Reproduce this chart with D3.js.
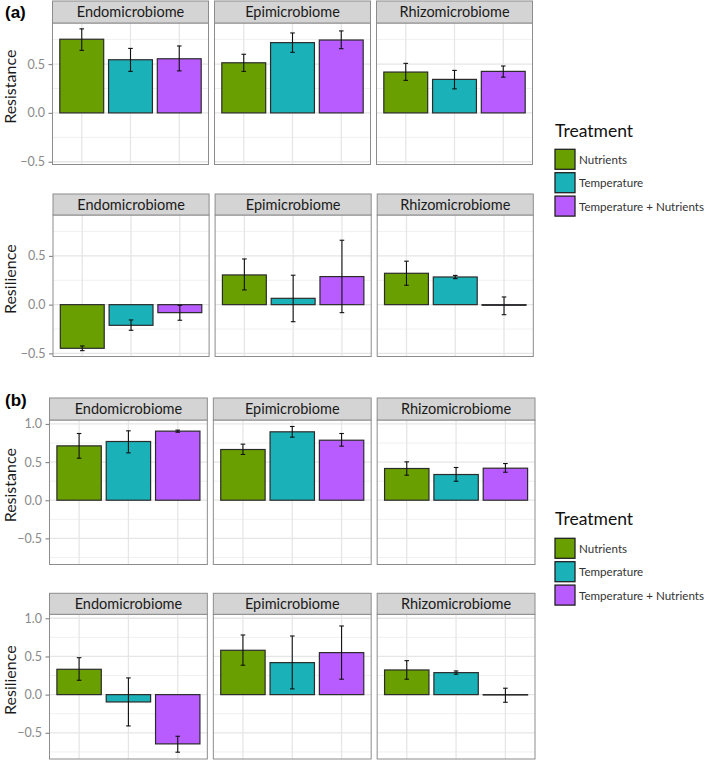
<!DOCTYPE html>
<html>
<head>
<meta charset="utf-8">
<script src="https://cdn.jsdelivr.net/npm/d3@7"></script>
<style>
  html, body { margin: 0; padding: 0; background: #fff; }
  svg { display: block; font-family: Lato, "Open Sans", sans-serif; }
</style>
</head>
<body>
<svg id="chart" width="709" height="762"></svg>
<script>
// ---------------- DATA ----------------
const treatments = ["Nutrients", "Temperature", "Temperature + Nutrients"];
const compartments = ["Endomicrobiome", "Epimicrobiome", "Rhizomicrobiome"];
const colors = ["#6a9f00", "#1ab2b8", "#b85cff"];

// (a) Resistance: per compartment, values per treatment
const aResistanceMean = [[0.754, 0.544, 0.554], [0.513, 0.719, 0.746], [0.418, 0.343, 0.425]];
const aResistanceLo   = [[0.640, 0.425, 0.430], [0.425, 0.620, 0.657], [0.333, 0.246, 0.366]];
const aResistanceHi   = [[0.860, 0.660, 0.685], [0.600, 0.818, 0.839], [0.507, 0.435, 0.480]];

// (a) Resilience
const aResilienceMean = [[-0.448, -0.212, -0.082], [0.305, 0.065, 0.288], [0.322, 0.284, -0.007]];
const aResilienceLo   = [[-0.472, -0.263, -0.160], [0.151, -0.175, -0.082], [0.199, 0.267, -0.103]];
const aResilienceHi   = [[-0.424, -0.157, -0.007], [0.469, 0.302, 0.661], [0.446, 0.300, 0.079]];

// (b) Resistance
const bResistanceMean = [[0.713, 0.770, 0.906], [0.665, 0.897, 0.787], [0.416, 0.337, 0.420]];
const bResistanceLo   = [[0.551, 0.621, 0.892], [0.600, 0.827, 0.709], [0.328, 0.249, 0.367]];
const bResistanceHi   = [[0.875, 0.910, 0.919], [0.735, 0.967, 0.875], [0.503, 0.429, 0.481]];

// (b) Resilience
const bResilienceMean = [[0.332, -0.096, -0.645], [0.581, 0.419, 0.550], [0.323, 0.288, -0.005]];
const bResilienceLo   = [[0.188, -0.410, -0.754], [0.385, 0.075, 0.202], [0.202, 0.267, -0.100]];
const bResilienceHi   = [[0.484, 0.219, -0.545], [0.781, 0.768, 0.899], [0.445, 0.310, 0.084]];

const aTicks = [-0.5, 0, 0.5];
const bTicks = [-0.5, 0, 0.5, 1.0];
const legendTitle = "Treatment";

// ---------------- LAYOUT ----------------
const svg = d3.select("#chart");

const rows = [
  { title: "Resistance", mean: aResistanceMean, lo: aResistanceLo, hi: aResistanceHi,
    ticks: aTicks, domain: [-0.528, 0.92], stripTop: 1, plotTop: 23, plotBottom: 164.5,
    left: 52.5, right: 532.5 },
  { title: "Resilience", mean: aResilienceMean, lo: aResilienceLo, hi: aResilienceHi,
    ticks: aTicks, domain: [-0.532, 0.92], stripTop: 194, plotTop: 215, plotBottom: 356.5,
    left: 53, right: 533.3 },
  { title: "Resistance", mean: bResistanceMean, lo: bResistanceLo, hi: bResistanceHi,
    ticks: bTicks, domain: [-0.843, 1.052], stripTop: 398, plotTop: 420, plotBottom: 564.5,
    left: 49.5, right: 535 },
  { title: "Resilience", mean: bResilienceMean, lo: bResilienceLo, hi: bResilienceHi,
    ticks: bTicks, domain: [-0.843, 1.052], stripTop: 593.3, plotTop: 614.3, plotBottom: 759,
    left: 49.5, right: 535 }
];
const gap = 6;
const fmt = d3.format(".1f");

rows.forEach(row => {
  const y = d3.scaleLinear().domain(row.domain).range([row.plotBottom, row.plotTop]);
  const pw = (row.right - row.left - 2 * gap) / 3;
  const minorTicks = [];
  for (let i = 0; i < row.ticks.length; i++) {
    const t = row.ticks[i];
    [t - 0.25, t + 0.25].forEach(m => {
      if (m > row.domain[0] && m < row.domain[1] && !minorTicks.includes(m)) minorTicks.push(m);
    });
  }

  compartments.forEach((comp, ci) => {
    const x0 = row.left + ci * (pw + gap);
    const x = d3.scaleBand().domain(treatments).range([x0, x0 + pw])
      .paddingInner(0.1).paddingOuter(0.15);
    const g = svg.append("g");

    g.append("rect").attr("x", x0).attr("y", row.plotTop).attr("width", pw)
      .attr("height", row.plotBottom - row.plotTop).attr("fill", "#fff");

    g.selectAll(".minor").data(minorTicks).join("line")
      .attr("x1", x0).attr("x2", x0 + pw)
      .attr("y1", d => y(d)).attr("y2", d => y(d))
      .attr("stroke", "#f0f0f0").attr("stroke-width", 1);
    g.selectAll(".major").data(row.ticks).join("line")
      .attr("x1", x0).attr("x2", x0 + pw)
      .attr("y1", d => y(d)).attr("y2", d => y(d))
      .attr("stroke", "#e6e6e6").attr("stroke-width", 1.3);
    g.selectAll(".vgrid").data(treatments).join("line")
      .attr("x1", d => x(d) + x.bandwidth() / 2).attr("x2", d => x(d) + x.bandwidth() / 2)
      .attr("y1", row.plotTop).attr("y2", row.plotBottom)
      .attr("stroke", "#e6e6e6").attr("stroke-width", 1.3);

    const data = treatments.map((t, ti) => ({
      t, ti, v: row.mean[ci][ti], lo: row.lo[ci][ti], hi: row.hi[ci][ti]
    }));
    g.selectAll(".bar").data(data).join("rect")
      .attr("x", d => x(d.t))
      .attr("width", x.bandwidth())
      .attr("y", d => Math.min(y(d.v), y(0)))
      .attr("height", d => Math.max(0.3, Math.abs(y(d.v) - y(0))))
      .attr("fill", d => colors[d.ti])
      .attr("stroke", "#2b2b2b").attr("stroke-width", 1.2);

    const eb = g.selectAll(".eb").data(data).join("g")
      .attr("stroke", "#111").attr("stroke-width", 1.1);
    eb.append("line")
      .attr("x1", d => x(d.t) + x.bandwidth() / 2).attr("x2", d => x(d.t) + x.bandwidth() / 2)
      .attr("y1", d => y(d.lo)).attr("y2", d => y(d.hi));
    eb.append("line")
      .attr("x1", d => x(d.t) + x.bandwidth() / 2 - 2.3).attr("x2", d => x(d.t) + x.bandwidth() / 2 + 2.3)
      .attr("y1", d => y(d.lo)).attr("y2", d => y(d.lo));
    eb.append("line")
      .attr("x1", d => x(d.t) + x.bandwidth() / 2 - 2.3).attr("x2", d => x(d.t) + x.bandwidth() / 2 + 2.3)
      .attr("y1", d => y(d.hi)).attr("y2", d => y(d.hi));

    g.append("rect").attr("x", x0).attr("y", row.plotTop).attr("width", pw)
      .attr("height", row.plotBottom - row.plotTop).attr("fill", "none")
      .attr("stroke", "#8c8c8c").attr("stroke-width", 1);

    g.append("rect").attr("x", x0).attr("y", row.stripTop).attr("width", pw)
      .attr("height", row.plotTop - row.stripTop).attr("fill", "#d4d4d4")
      .attr("stroke", "#8c8c8c").attr("stroke-width", 1);
    g.append("text").attr("x", x0 + pw / 2).attr("y", (row.stripTop + row.plotTop) / 2 + 5)
      .attr("text-anchor", "middle").attr("font-size", 14.5).attr("fill", "#1a1a1a")
      .text(comp);

    if (ci === 0) {
      const axis = d3.axisLeft(y).tickValues(row.ticks).tickSize(4).tickPadding(3.5).tickFormat(fmt);
      const ag = svg.append("g").attr("transform", `translate(${x0},0)`).call(axis);
      ag.select(".domain").remove();
      ag.selectAll(".tick line").attr("stroke", "#8c8c8c").attr("stroke-width", 1.2);
      ag.selectAll(".tick text").attr("fill", "#8a8a8a").attr("font-size", 12.5)
        .attr("font-family", "Lato, sans-serif");
      const cy = (row.stripTop + row.plotBottom) / 2 + 4;
      svg.append("text").attr("transform", `translate(16,${cy}) rotate(-90)`)
        .attr("text-anchor", "middle").attr("font-size", 16).attr("fill", "#1a1a1a")
        .text(row.title);
    }
  });
});

svg.append("text").attr("x", 5).attr("y", 17.5).attr("font-size", 17).attr("font-weight", "bold")
  .attr("font-family", "Arial, 'Liberation Sans', sans-serif").text("(a)");
svg.append("text").attr("x", 5).attr("y", 405.5).attr("font-size", 17).attr("font-weight", "bold")
  .attr("font-family", "Arial, 'Liberation Sans', sans-serif").text("(b)");

[{ titleY: 137, keyY: 149.3 }, { titleY: 525, keyY: 538.3 }].forEach(L => {
  const lg = svg.append("g");
  lg.append("text").attr("x", 555).attr("y", L.titleY).attr("font-size", 17.5)
    .attr("fill", "#111").text(legendTitle);
  const items = lg.selectAll(".item").data(treatments).join("g")
    .attr("transform", (d, i) => `translate(555,${L.keyY + i * 23.4})`);
  items.append("rect").attr("width", 20).attr("height", 20)
    .attr("fill", (d, i) => colors[i]).attr("stroke", "#222").attr("stroke-width", 1.3);
  items.append("text").attr("x", 24).attr("y", 14.5).attr("font-size", 11.6)
    .attr("fill", "#333").text(d => d);
});
</script>
</body>
</html>
